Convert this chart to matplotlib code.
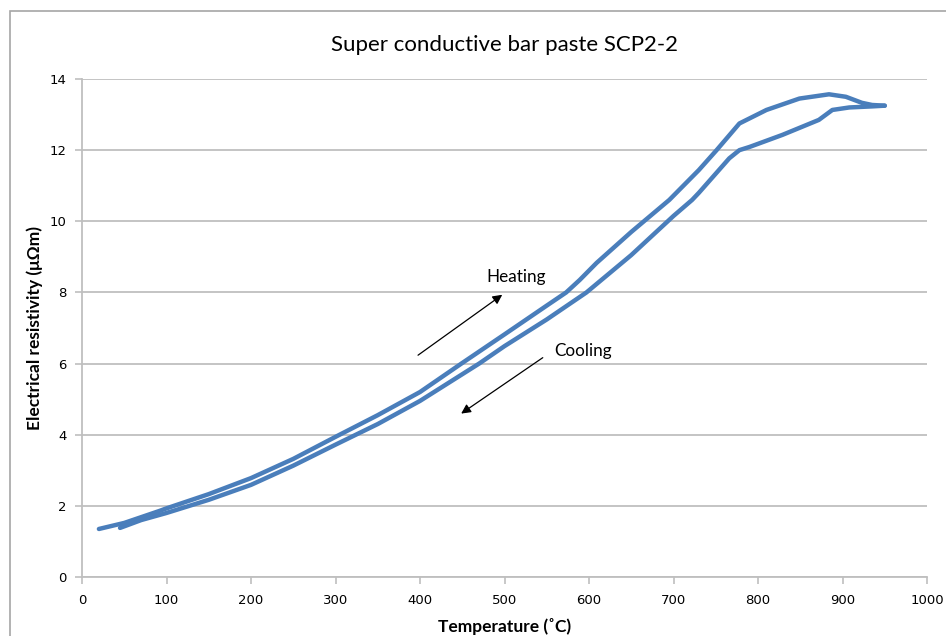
import matplotlib
matplotlib.use('Agg')
import matplotlib.pyplot as plt
from matplotlib.patches import Rectangle

# heating run (upper / left branch), temperature in C, resistivity in uOhm m
heat_T = [20, 50, 92, 100, 150, 200, 250, 300, 350, 400, 449, 500, 550, 573,
          589, 609, 650, 695, 730, 751, 778, 810, 849, 884, 904, 923, 935, 950]
heat_R = [1.35, 1.52, 1.86, 1.93, 2.33, 2.78, 3.32, 3.94, 4.55, 5.2, 6.0, 6.82, 7.63, 8.0,
          8.35, 8.83, 9.7, 10.6, 11.44, 12.0, 12.75, 13.13, 13.45, 13.57, 13.5, 13.33, 13.27, 13.25]

# cooling run (lower / right branch)
cool_T = [950, 935, 908, 888, 872, 829, 790, 778, 766, 730, 722, 700, 650, 597,
          550, 500, 470, 400, 350, 300, 250, 200, 150, 100, 70, 45]
cool_R = [13.25, 13.23, 13.2, 13.13, 12.85, 12.43, 12.09, 12.0, 11.77, 10.8, 10.6, 10.15, 9.05, 8.0,
          7.24, 6.49, 6.0, 4.95, 4.3, 3.72, 3.13, 2.59, 2.17, 1.8, 1.6, 1.38]

x_ticks = list(range(0, 1001, 100))
y_ticks = list(range(0, 15, 2))

line_col = '#4a7ebb'
grid_col = '#bfbfbf'

fig = plt.figure(figsize=(9.46, 6.36), dpi=100)
fig.patches.append(Rectangle((10 / 946, -0.1), 1.2, 1.1 - 11 / 636, transform=fig.transFigure,
                             fill=False, edgecolor='#a6a6a6', linewidth=1.2))
ax = fig.add_axes([82 / 946, 1 - 577 / 636, (927 - 82) / 946, (577 - 79) / 636])

ax.plot(heat_T, heat_R, color=line_col, linewidth=3.2, solid_capstyle='round', solid_joinstyle='round')
ax.plot(cool_T, cool_R, color=line_col, linewidth=3.2, solid_capstyle='round', solid_joinstyle='round')

ax.set_xlim(0, 1000)
ax.set_ylim(0, 14)
ax.set_xticks(x_ticks)
ax.set_yticks(y_ticks)
ax.yaxis.grid(True, color=grid_col, linewidth=1.3)
ax.set_axisbelow(True)
for s in ['top', 'right']:
    ax.spines[s].set_visible(False)
for s in ['left', 'bottom']:
    ax.spines[s].set_color(grid_col)
    ax.spines[s].set_linewidth(1.3)
ax.tick_params(axis='both', direction='out', length=5, width=1.2, color=grid_col,
               labelsize=9.5, labelcolor='black')
ax.tick_params(axis='x', pad=7)
ax.tick_params(axis='y', pad=6)

ax.set_title('Super conductive bar paste SCP2-2', family='Lato', fontsize=16, pad=20)
ax.set_xlabel('Temperature (\u02daC)', family='Lato', fontweight='bold', fontsize=12.5, labelpad=8)
ax.set_ylabel('Electrical resistivity (\u03bc\u03a9m)', family='Lato', fontweight='bold', fontsize=12.5, labelpad=5)

ax.annotate('', xy=(500, 7.98), xytext=(395, 6.19),
            arrowprops=dict(arrowstyle='-|>', color='black', lw=0.9, mutation_scale=14))
ax.text(514, 8.43, 'Heating', family='Lato', fontsize=12.3, ha='center', va='center')
ax.annotate('', xy=(446, 4.55), xytext=(548, 6.21),
            arrowprops=dict(arrowstyle='-|>', color='black', lw=0.9, mutation_scale=14))
ax.text(593, 6.35, 'Cooling', family='Lato', fontsize=12.3, ha='center', va='center')

fig.savefig('out.png', dpi=100)
